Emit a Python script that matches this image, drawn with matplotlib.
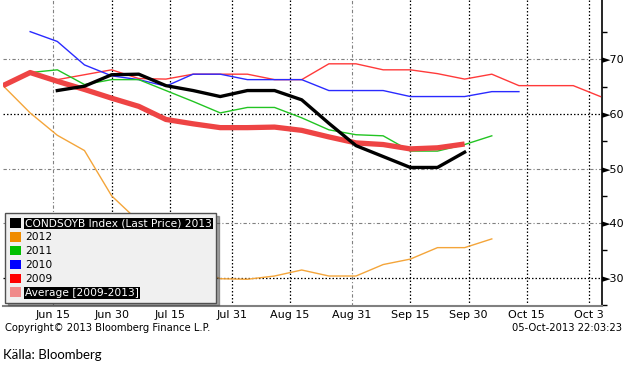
import matplotlib
matplotlib.use("Agg")
import matplotlib.pyplot as plt
import numpy as np
from matplotlib.patches import Patch
from matplotlib.ticker import FixedLocator

# weekly observation dates (2013 calendar used for the seasonal x axis)
dates = ["2013-06-02", "2013-06-09", "2013-06-16", "2013-06-23", "2013-06-30",
         "2013-07-07", "2013-07-14", "2013-07-21", "2013-07-28", "2013-08-04",
         "2013-08-11", "2013-08-18", "2013-08-25", "2013-09-01", "2013-09-08",
         "2013-09-15", "2013-09-22", "2013-09-29", "2013-10-06", "2013-10-13",
         "2013-10-20", "2013-10-27", "2013-11-03"]
nan = np.nan
y2013 = [nan, nan, 64.3, 65.1, 67.2, 67.3, 65.2, 64.3, 63.2, 64.3, 64.3, 62.6,
         58.3, 54.2, 52.2, 50.2, 50.2, 53.0, nan, nan, nan, nan, nan]
y2012 = [65.2, 60.2, 56.1, 53.3, 45.0, 40.3, 34.8, 31.9, 29.8, 29.7, 30.3, 31.4,
         30.3, 30.3, 32.4, 33.4, 35.5, 35.5, 37.1, nan, nan, nan, nan]
y2011 = [nan, 67.6, 68.1, 65.4, 66.3, 66.3, 64.3, 62.3, 60.2, 61.2, 61.2, 59.3,
         57.1, 56.2, 56.0, 53.2, 53.2, 54.4, 56.0, nan, nan, nan, nan]
y2010 = [nan, 75.1, 73.3, 69.0, 67.0, 66.3, 65.1, 67.3, 67.3, 66.3, 66.3, 66.3,
         64.3, 64.3, 64.3, 63.2, 63.2, 63.2, 64.1, 64.1, nan, nan, nan]
y2009 = [nan, nan, 66.3, 67.2, 68.1, 66.5, 66.4, 67.3, 67.3, 67.3, 66.3, 66.3,
         69.2, 69.2, 68.1, 68.1, 67.4, 66.4, 67.3, 65.2, 65.2, 65.2, 63.2]
yavg = [65.2, 67.6, 66.0, 64.5, 62.9, 61.4, 59.0, 58.2, 57.5, 57.5, 57.6, 57.0,
        55.8, 54.7, 54.4, 53.6, 53.8, 54.5, nan, nan, nan, nan, nan]

tick_dates = ["2013-06-15", "2013-06-30", "2013-07-15", "2013-07-31", "2013-08-15",
              "2013-08-31", "2013-09-15", "2013-09-30", "2013-10-15", "2013-10-31"]
tick_labels = ["Jun 15", "Jun 30", "Jul 15", "Jul 31", "Aug 15",
               "Aug 31", "Sep 15", "Sep 30", "Oct 15", "Oct 3"]
y_ticks = [30, 40, 50, 60, 70]

legend_labels = ["CONDSOYB Index (Last Price) 2013", "2012", "2011", "2010", "2009",
                 "Average [2009-2013]"]
legend_colors = ["#000000", "#f08c00", "#00c000", "#0000ff", "#ff0000", "#f08a8a"]

x = np.array(dates, dtype="datetime64[D]")
xt = np.array(tick_dates, dtype="datetime64[D]")

fig = plt.figure(figsize=(6.25, 3.65), dpi=100)
ax = fig.add_axes([3/625, 1-306/365, 598.7/625, 306/365])

ax.plot(x, y2009, color="#ff3a3a", lw=1.0, zorder=3)
ax.plot(x, y2010, color="#2a2aff", lw=1.0, zorder=3)
ax.plot(x, y2011, color="#22c422", lw=1.0, zorder=3)
ax.plot(x, y2012, color="#f4a53a", lw=1.0, zorder=3)
ax.plot(x, yavg, color="#ee4444", lw=3.8, zorder=4, solid_capstyle="butt")
ax.plot(x, y2013, color="#000000", lw=2.4, zorder=5)

ax.set_xlim(np.datetime64("2013-06-02"), np.datetime64("2013-11-03T08:00"))
ax.set_ylim(24.8, 80.9)

ax.set_xticks(xt)
ax.set_xticklabels(tick_labels)
ax.tick_params(axis="x", length=0, labelsize=8, pad=3)

ax.yaxis.tick_right()
ax.set_yticks(y_ticks)
ax.set_yticklabels(["\u25ba" + str(v) for v in y_ticks])
ax.yaxis.set_minor_locator(FixedLocator([25, 35, 45, 55, 65, 75]))
ax.tick_params(axis="y", which="major", length=0, pad=0, labelsize=8)
ax.tick_params(axis="y", which="minor", length=3.5, width=1, color="black")

for s in ["left", "top"]:
    ax.spines[s].set_visible(False)
ax.spines["right"].set_linewidth(1.2)
ax.spines["bottom"].set_color("#808080")
ax.spines["bottom"].set_linewidth(1.5)

# grid: mixture of black dotted and gray dash-dot lines
gray_x = ["Jun 15", "Aug 31"]
for t, lab in zip(xt, tick_labels):
    if lab in gray_x:
        ax.axvline(t, color="#808080", lw=0.8, ls=(0, (3, 2, 1, 2)), zorder=1)
    else:
        ax.axvline(t, color="black", lw=0.9, ls=(0, (1.2, 1.6)), zorder=1)
for v in y_ticks:
    if v in (60, 30):
        ax.axhline(v, color="black", lw=0.9, ls=(0, (1.2, 1.6)), zorder=1)
    else:
        ax.axhline(v, color="#808080", lw=0.8, ls=(0, (3, 2, 1, 2)), zorder=1)

handles = [Patch(facecolor=c, edgecolor="none") for c in legend_colors]
leg = ax.legend(handles, legend_labels, loc="lower left",
                bbox_to_anchor=(2/598.7, 3.3/306), borderaxespad=0,
                fontsize=7.7, handlelength=1.0, handleheight=1.0,
                handletextpad=0.4, labelspacing=0.32, borderpad=0.45,
                fancybox=False, shadow=True, framealpha=1)
leg.get_frame().set_facecolor("#f0f0f0")
leg.get_frame().set_edgecolor("#505050")
leg.set_zorder(10)
for i, t in enumerate(leg.get_texts()):
    if i in (0, len(legend_labels) - 1):
        t.set_color("white")
        t.set_bbox(dict(facecolor="black", edgecolor="none", pad=0.6))

fig.text(5/625, 1-328/365, "Copyright\u00a9 2013 Bloomberg Finance L.P.",
         fontsize=7.2, va="center", ha="left")
fig.text(622/625, 1-328/365, "05-Oct-2013 22:03:23",
         fontsize=7.2, va="center", ha="right")
fig.text(3/625, 1-355/365, "K\u00e4lla: Bloomberg", fontsize=9.5,
         family="Lato", va="center", ha="left")

fig.savefig("out.png", dpi=100)
